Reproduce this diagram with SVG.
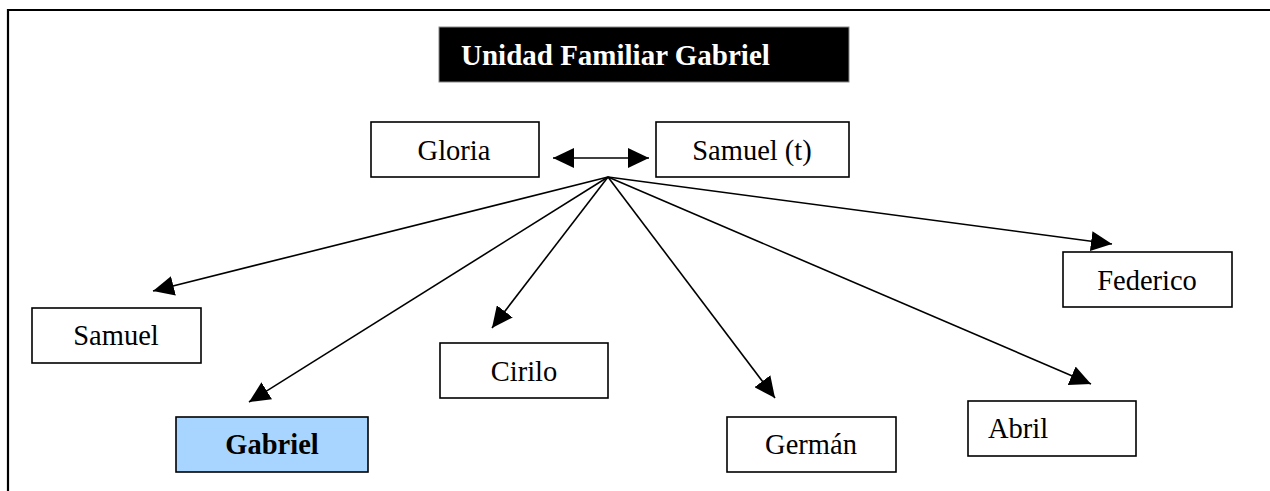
<svg xmlns="http://www.w3.org/2000/svg" width="1270" height="491" viewBox="0 0 1270 491">
<style>
.box{fill:#fff;stroke:#000;stroke-width:1.6}
.t{font-family:"Liberation Serif","Times New Roman",serif;font-size:28.5px;fill:#000;text-anchor:middle}
.ts{font-family:"Liberation Serif","Times New Roman",serif;font-size:28.5px;fill:#000;text-anchor:start}
.c{stroke:#000;stroke-width:1.6;fill:none}
</style>
<defs>
<marker id="ah" markerUnits="userSpaceOnUse" markerWidth="22" markerHeight="20" refX="21" refY="10" orient="auto">
<path d="M0,0 L21,10 L0,20 z" fill="#000"/>
</marker>
<marker id="ahs" markerUnits="userSpaceOnUse" markerWidth="22" markerHeight="20" refX="0" refY="10" orient="auto">
<path d="M21,0 L0,10 L21,20 z" fill="#000"/>
</marker>
</defs>
<rect width="1270" height="491" fill="#fff"/>
<g id="frame"><path d="M8,491 L8,10 L1270,10" fill="none" stroke="#000" stroke-width="2.2"/></g>
<g id="title"><rect x="439" y="27" width="410" height="55" fill="#000" stroke="#888" stroke-width="1"/><text x="461" y="65" font-family="Liberation Serif,serif" font-size="29px" font-weight="bold" fill="#fff">Unidad Familiar Gabriel</text></g>
<g id="connectors">
<line class="c" x1="553" y1="158" x2="649" y2="158" marker-start="url(#ahs)" marker-end="url(#ah)"/>
<line class="c" x1="608" y1="177" x2="153" y2="291" marker-end="url(#ah)"/>
<line class="c" x1="608" y1="177" x2="249" y2="402" marker-end="url(#ah)"/>
<line class="c" x1="608" y1="177" x2="492" y2="328" marker-end="url(#ah)"/>
<line class="c" x1="608" y1="177" x2="775" y2="398" marker-end="url(#ah)"/>
<line class="c" x1="608" y1="177" x2="1091" y2="384" marker-end="url(#ah)"/>
<line class="c" x1="608" y1="177" x2="1112" y2="244" marker-end="url(#ah)"/>
</g>
<g id="gloria"><rect class="box" x="371" y="122" width="168" height="55"/><text class="t" x="454" y="160">Gloria</text></g>
<g id="samuel-t"><rect class="box" x="656" y="122" width="193" height="55"/><text class="t" x="752" y="160">Samuel (t)</text></g>
<g id="samuel"><rect class="box" x="32" y="308" width="169" height="55"/><text class="t" x="116" y="345">Samuel</text></g>
<g id="gabriel"><rect x="176" y="417" width="192" height="55" fill="#A8D5FF" stroke="#000" stroke-width="1.6"/><text class="t" x="272" y="454" font-weight="bold">Gabriel</text></g>
<g id="cirilo"><rect class="box" x="440" y="343" width="168" height="55"/><text class="t" x="524" y="381">Cirilo</text></g>
<g id="german"><rect class="box" x="727" y="417" width="169" height="55"/><text class="t" x="811" y="454">Germán</text></g>
<g id="abril"><rect class="box" x="968" y="401" width="168" height="55"/><text class="ts" x="988" y="438">Abril</text></g>
<g id="federico"><rect class="box" x="1063" y="252" width="169" height="55"/><text class="t" x="1147" y="290">Federico</text></g>
</svg>
